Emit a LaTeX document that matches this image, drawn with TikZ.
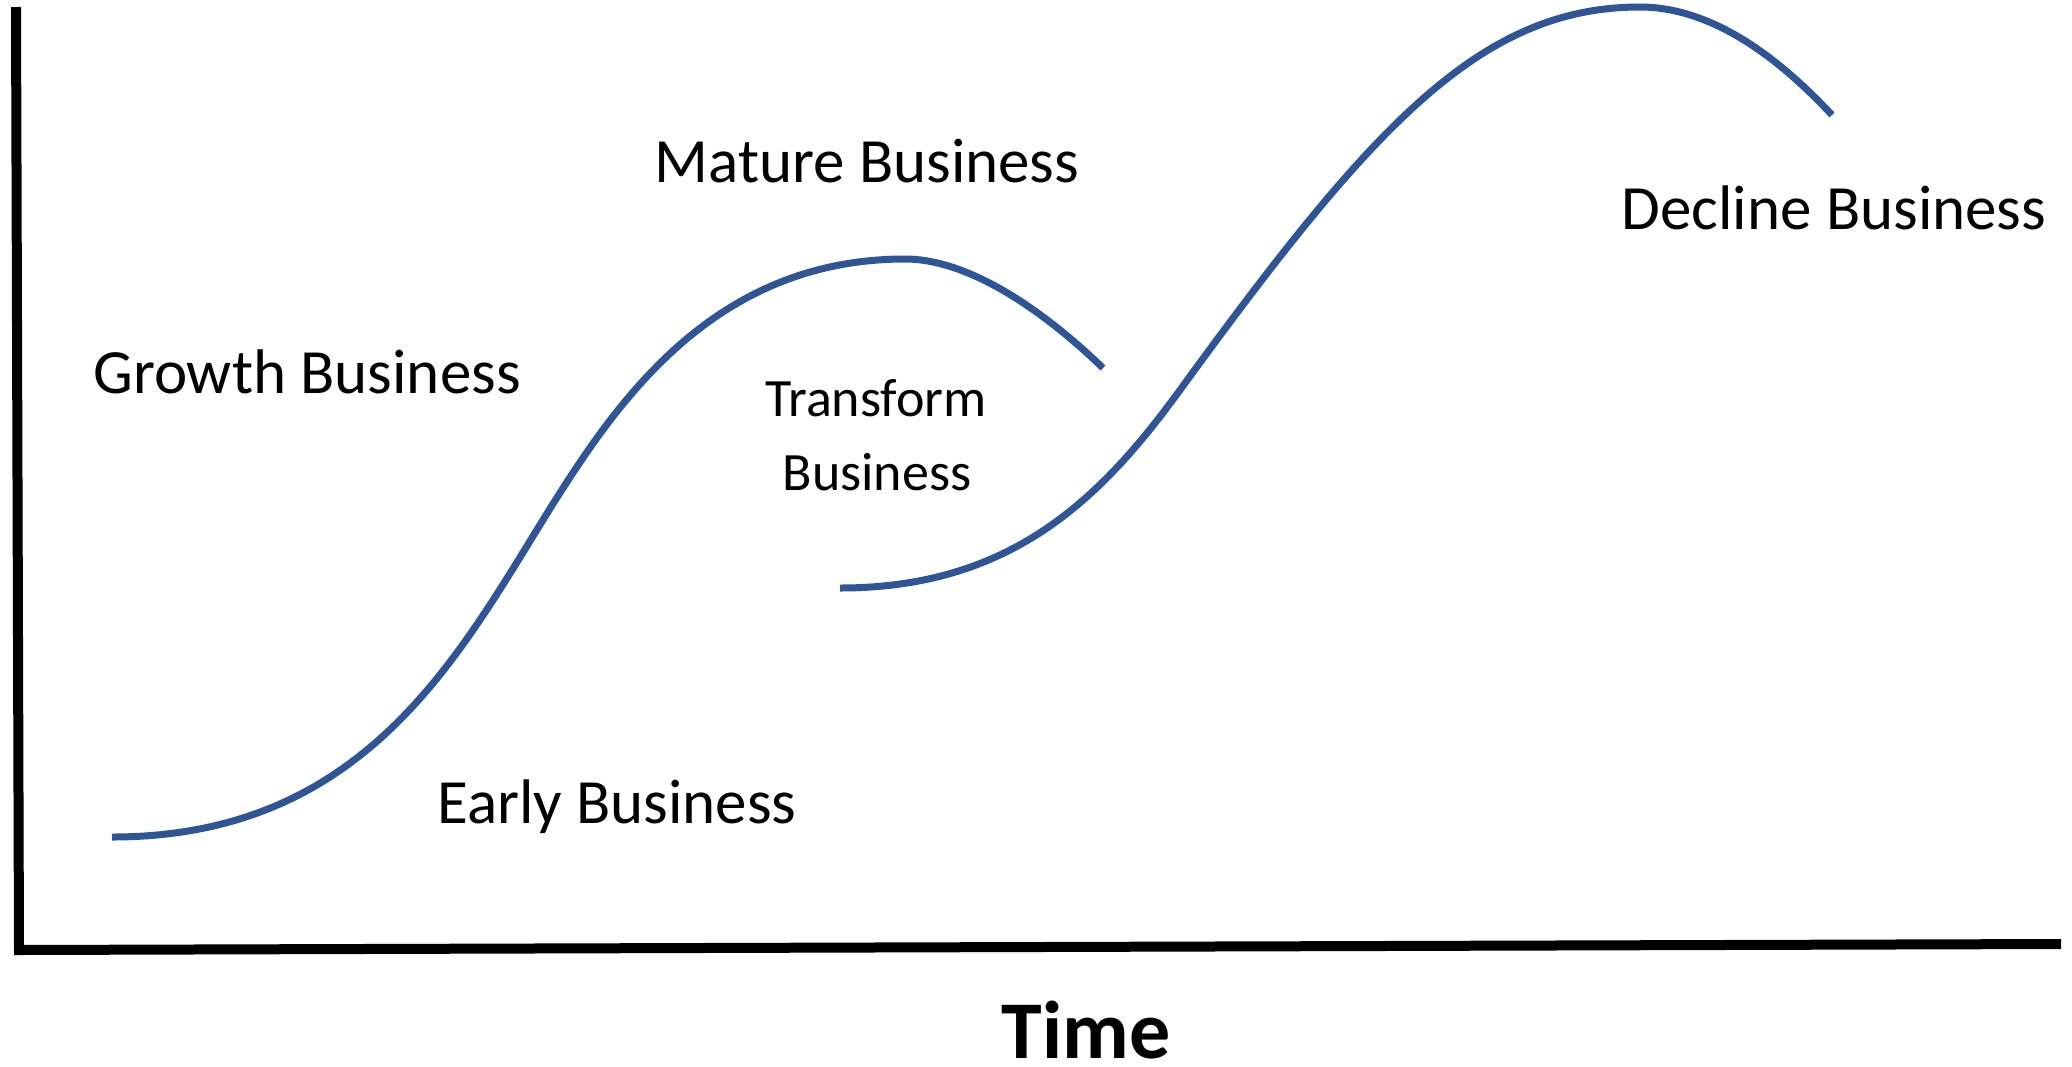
\documentclass[tikz,border=0pt]{standalone}
\usepackage{fontspec}
\setmainfont{Carlito}
\definecolor{curveblue}{HTML}{2F5597}
\begin{document}
\begin{tikzpicture}[x=1pt,y=-1pt,
  axisline/.style={line width=10pt,black,line join=miter},
  lifecurve/.style={line width=7pt,curveblue,line cap=butt},
  stagelabel/.style={inner sep=0pt,anchor=base,font=\fontsize{63}{75}\selectfont},
  smalllabel/.style={inner sep=0pt,anchor=base,font=\fontsize{54}{64}\selectfont},
  axislabel/.style={inner sep=0pt,anchor=base,font=\bfseries\fontsize{82}{96}\selectfont}]
  \useasboundingbox (0,0) rectangle (2072,1066);

  % axes
  \coordinate (ytop) at (16,7);
  \coordinate (origin) at (19,950);
  \coordinate (xend) at (2061,944);
  \draw[axisline] (ytop) -- (origin) -- (xend);

  % first S-curve
  \draw[lifecurve] (112,837) .. controls (380,837) and (469,633.5) .. (565,485)
    .. controls (629,386) and (725,259) .. (905,259)
    .. controls (970,259) and (1045,312) .. (1103,368);

  % second S-curve
  \draw[lifecurve] (840,588) .. controls (1010,588) and (1100,500) .. (1180,390)
    .. controls (1372,126) and (1480,7) .. (1640,7)
    .. controls (1720,7) and (1790,70) .. (1832,115);

  % stage labels
  \node[stagelabel] (growth)  at (307,393)  {Growth Business};
  \node[stagelabel] (mature)  at (867,182)  {Mature Business};
  \node[stagelabel] (early)   at (617,823)  {Early Business};
  \node[stagelabel] (decline) at (1834,229) {Decline Business};
  \node[smalllabel] (transform1) at (876,416) {Transform};
  \node[smalllabel] (transform2) at (877,490) {Business};

  % axis label
  \node[axislabel] (time) at (1086,1058) {Time};
\end{tikzpicture}
\end{document}
